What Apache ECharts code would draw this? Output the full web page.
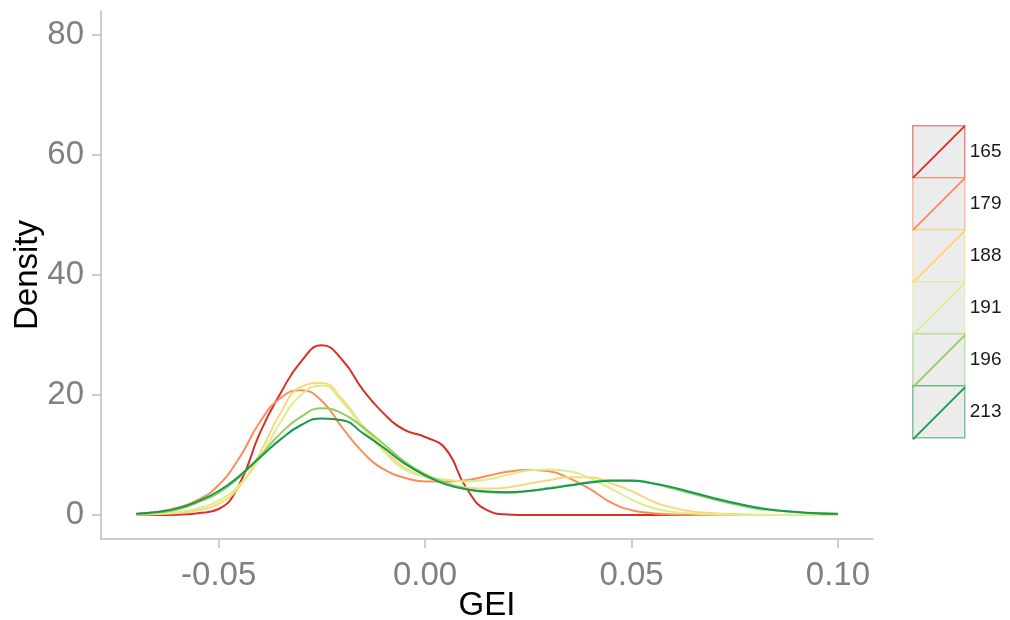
<!DOCTYPE html>
<html>
<head>
<meta charset="utf-8">
<script src="https://cdn.jsdelivr.net/npm/echarts@6/dist/echarts.min.js"></script>
<style>
html,body{margin:0;padding:0;background:#fff;}
#chart{width:1010px;height:620px;}
</style>
</head>
<body>
<div id="chart"></div>
<script>
// GEI grid (x values)
const gei = [-0.07,-0.065,-0.06,-0.055,-0.05,-0.045,-0.04,-0.035,-0.03,-0.025,-0.02,-0.015,-0.01,-0.005,0,0.005,0.01,0.015,0.02,0.025,0.03,0.035,0.04,0.045,0.05,0.055,0.06,0.065,0.07,0.075,0.08,0.085,0.09,0.095,0.10];

const seriesNames = ['165','179','188','191','196','213'];
const seriesColors = ['#d73027','#fc8d59','#fdd67a','#d9ef8b','#91cf60','#1a9850'];

const d165 = [0,0,0.05,0.3,1.0,5.1,13.7,20.3,25.6,28.3,25.8,20.8,16.9,14.2,13.0,11.0,4.5,0.8,0.1,0,0,0,0,0,0,0,0,0,0,0,0,0,0,0,0];
const d179 = [0.15,0.5,1.2,2.5,5.0,9.5,15.5,19.5,20.8,19.0,14.5,10.4,7.6,6.2,5.6,5.6,5.8,6.5,7.2,7.5,7.3,6.1,4.3,2.1,0.8,0.3,0.1,0.02,0,0,0,0,0,0,0];
const d188 = [0.05,0.15,0.35,0.8,1.9,4.7,10.3,17.0,21.4,22.0,19.2,14.8,11.0,7.9,6.4,5.2,4.6,4.4,4.6,5.2,5.8,6.3,6.3,5.3,4.0,2.3,1.2,0.55,0.3,0.15,0.05,0.02,0,0,0];
const d191 = [0.08,0.2,0.5,1.1,2.4,5.0,9.5,15.5,20.0,21.6,18.8,14.5,10.6,7.6,6.4,5.9,5.6,5.9,6.7,7.4,7.6,7.3,6.1,4.4,2.6,1.2,0.55,0.25,0.1,0.04,0,0,0,0,0];
const d196 = [0.15,0.4,0.9,2.1,3.7,6.3,9.8,13.6,16.4,17.8,16.9,14.6,11.8,8.9,6.8,5.4,4.3,3.8,3.7,4.0,4.5,5.0,5.5,5.8,5.8,5.3,4.4,3.5,2.6,1.8,1.1,0.75,0.45,0.25,0.15];
const d213 = [0.2,0.5,1.1,2.3,4.0,6.5,9.6,12.6,15.0,16.1,15.8,13.6,11.2,8.6,6.6,5.1,4.3,3.9,3.8,4.0,4.4,4.9,5.4,5.7,5.7,5.3,4.6,3.7,2.8,2.0,1.3,0.8,0.5,0.3,0.2];
const densities = [d165,d179,d188,d191,d196,d213];

const xTicks = [-0.05,0,0.05,0.10];
const yTicks = [0,20,40,60,80];

function alpha(hex,a){
  const r=parseInt(hex.slice(1,3),16),g=parseInt(hex.slice(3,5),16),b=parseInt(hex.slice(5,7),16);
  return 'rgba('+r+','+g+','+b+','+a+')';
}

const series = seriesNames.map((n,i)=>({
  name:n,
  type:'line',
  data: gei.map((x,j)=>[x,densities[i][j]]),
  smooth:0.5,
  showSymbol:false,
  lineStyle:{color:seriesColors[i],width:2},
  itemStyle:{color:seriesColors[i]},
  z: 2+i
}));

const chart = echarts.init(document.getElementById('chart'),null,{renderer:'canvas'});
chart.setOption({
  animation:false,
  backgroundColor:'#ffffff',
  grid:{left:101,right:137,top:11,bottom:81,containLabel:false,outerBoundsMode:'none'},
  xAxis:{
    type:'value',min:-0.0785,max:0.1085,
    name:'GEI',nameLocation:'middle',nameGap:50,nameMoveOverlap:false,
    nameTextStyle:{fontFamily:'Liberation Sans',fontSize:33,color:'#000'},
    axisLine:{onZero:false,lineStyle:{color:'#bdbdbd',width:1.5}},
    axisTick:{show:true,length:9,lineStyle:{color:'#bdbdbd',width:1.5},customValues:xTicks},
    axisLabel:{fontFamily:'Liberation Sans',fontSize:33,color:'#808080',margin:20,customValues:xTicks,
      formatter:v=>v.toFixed(2)},
    splitLine:{show:false}
  },
  yAxis:{
    type:'value',min:-4,max:84,
    name:'Density',nameLocation:'middle',nameGap:57,nameMoveOverlap:false,
    nameTextStyle:{fontFamily:'Liberation Sans',fontSize:33,color:'#000'},
    axisLine:{onZero:false,lineStyle:{color:'#bdbdbd',width:1.5}},
    axisTick:{show:true,length:9,lineStyle:{color:'#bdbdbd',width:1.5},customValues:yTicks},
    axisLabel:{fontFamily:'Liberation Sans',fontSize:33,color:'#808080',margin:17,customValues:yTicks},
    splitLine:{show:false}
  },
  legend:[
    {
      orient:'vertical',left:912,top:125,padding:0,itemWidth:52,itemHeight:52,itemGap:-1.5,
      icon:'path://M0,0L10,0L10,10L0,10Z',
      selectedMode:false,
      textStyle:{fontFamily:'Liberation Sans',fontSize:19,color:'#1a1a1a'},
      data:seriesNames.map((n,i)=>({name:n,itemStyle:{color:'#ececec',borderColor:alpha(seriesColors[i],0.55),borderWidth:1.5}}))
    },
    {
      orient:'vertical',left:912,top:125,padding:0,itemWidth:52,itemHeight:52,itemGap:-1.5,
      icon:'path://M0,10L10,0',
      selectedMode:false,
      formatter:()=>'',
      textStyle:{fontSize:19,color:'transparent'},
      data:seriesNames.map((n,i)=>({name:n,itemStyle:{color:'transparent',borderColor:seriesColors[i],borderWidth:1.8}}))
    }
  ],
  series:series
});
</script>
</body>
</html>
